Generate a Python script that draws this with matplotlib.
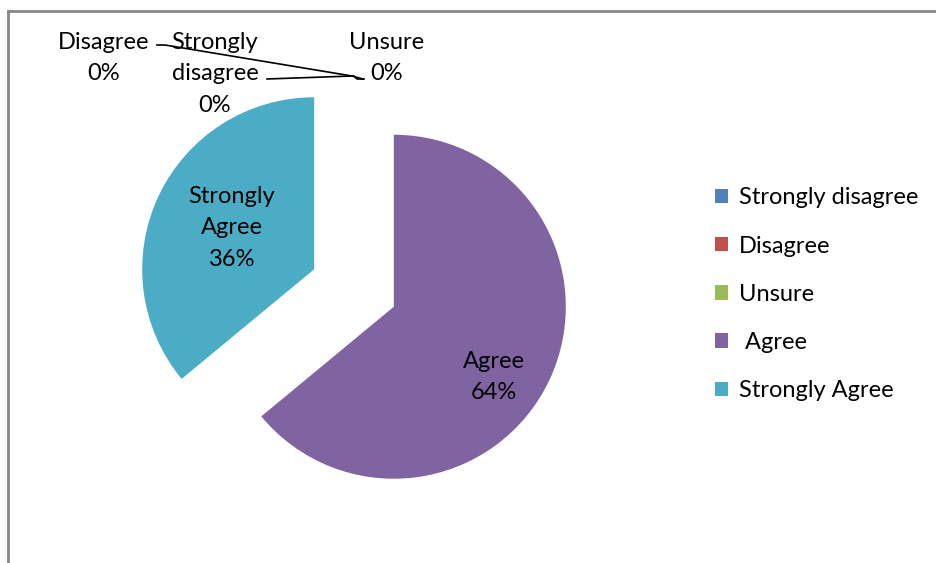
import matplotlib
matplotlib.use("Agg")
import matplotlib.pyplot as plt
from matplotlib.lines import Line2D
import numpy as np

categories = ["Strongly disagree", "Disagree", "Unsure", "Agree", "Strongly Agree"]
legend_labels = ["Strongly disagree", "Disagree", "Unsure", " Agree", "Strongly Agree"]
values = [0, 0, 0, 64, 36]
colors = ["#4F81BD", "#C0504D", "#9BBB59", "#8064A2", "#4BACC6"]

plt.rcParams['font.family'] = ['Lato', 'DejaVu Sans']

W, H = 936, 563
fig = plt.figure(figsize=(W / 100, H / 100), dpi=100)
ax = fig.add_axes([0, 0, 1, 1])

cx, cy, r = 354, H - 288, 172
wedges, _ = ax.pie(values, colors=colors, startangle=90, counterclock=False,
                   explode=[44] * len(values), center=(cx, cy), radius=r,
                   wedgeprops=dict(linewidth=0))
ax.set_xlim(0, W)
ax.set_ylim(0, H)
ax.set_aspect('equal')
ax.axis('off')

fs = 17
ls = 1.6
total = sum(values)
pct = [f"{v / total:.0%}" for v in values]

# labels of the big slices
ax.text(232, H - 228, f"Strongly\nAgree\n{pct[4]}", ha='center', va='center',
        fontsize=fs, linespacing=ls)
ax.text(494, H - 377, f"Agree\n{pct[3]}", ha='center', va='center',
        fontsize=fs, linespacing=ls)

# labels of the empty slices
ax.text(104, H - 58, f"Disagree\n{pct[1]}", ha='center', va='center',
        fontsize=fs, linespacing=ls)
ax.text(215, H - 74, f"Strongly\ndisagree\n{pct[0]}", ha='center', va='center',
        fontsize=fs, linespacing=ls)
ax.text(387, H - 58, f"Unsure\n{pct[2]}", ha='center', va='center',
        fontsize=fs, linespacing=ls)

# leader lines to the tip of the empty slices
tip = (cx, cy + 44 + r)
ax.plot([157, 165, tip[0] - 2, tip[0] + 9], [H - 45, H - 45, H - 76, H - 79],
        color='black', lw=1.2)
ax.plot([267, tip[0] - 2], [H - 79, H - 76], color='black', lw=1.2)
ax.plot([364, 357, tip[0]], [H - 79, H - 79, H - 76], color='black', lw=1.2)

ax.legend(wedges, legend_labels, loc='upper left', bbox_to_anchor=(706 / W, 1 - 178 / H),
          bbox_transform=fig.transFigure, frameon=False, fontsize=fs,
          handlelength=0.55, handleheight=0.55, handletextpad=0.45, labelspacing=1.15,
          borderaxespad=0)

# chart frame
fig.add_artist(Line2D([8 / W, 8 / W], [0, 1 - 11 / H], color='#888888', lw=2,
                      transform=fig.transFigure))
fig.add_artist(Line2D([8 / W, 1], [1 - 11 / H, 1 - 11 / H], color='#888888', lw=2,
                      transform=fig.transFigure))

fig.savefig("out.png", dpi=100)
